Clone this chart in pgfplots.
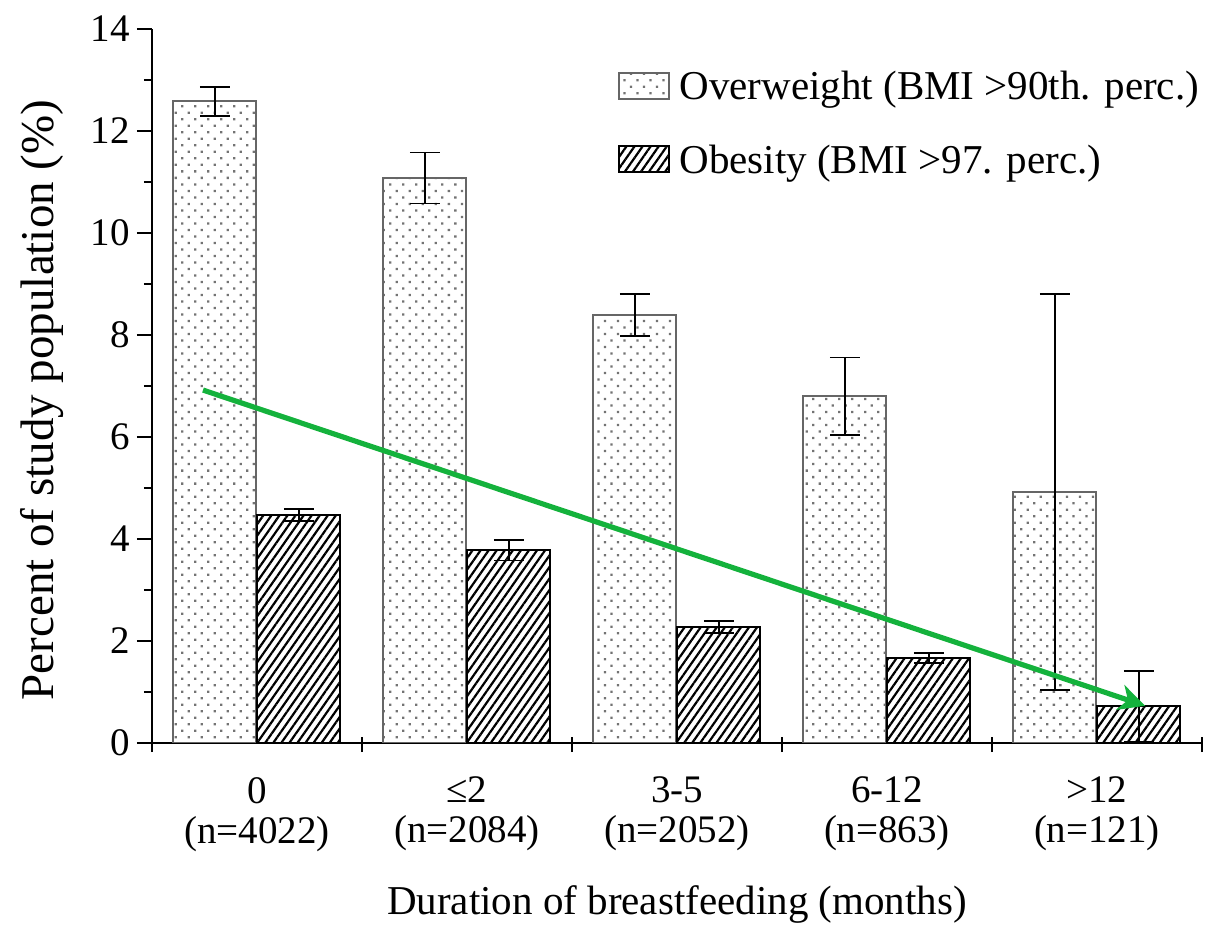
\documentclass[border=0pt]{standalone}
\usepackage{pgfplots}
\pgfplotsset{compat=1.18}
\usepackage{fontspec}
\setmainfont{Liberation Serif}
\usetikzlibrary{patterns.meta,arrows.meta}
\definecolor{arrgreen}{RGB}{20,178,60}
\begin{document}
\begin{tikzpicture}
\useasboundingbox (-76pt,-91.5pt) rectangle (529.5pt,371.5pt);
\begin{axis}[
  scale only axis,
  width=525pt, height=357pt,
  at={(0,0)}, anchor=south west,
  xmin=-0.5, xmax=4.5, ymin=0, ymax=14,
  axis lines=left,
  axis line style={-, line width=1.1pt},
  every tick/.style={black, line width=1.1pt},
  tick align=outside,
  ytick={0,2,...,14},
  minor ytick={1,3,...,13},
  major tick length=7.5pt,
  minor tick length=4pt,
  xtick={-0.5,0.5,...,4.5},
  xticklabels={},
  x tick style={yshift=3pt},
  extra x ticks={0,1,2,3,4},
  extra x tick labels={0\\(n=4022),≤2\\(n=2084),3-5\\(n=2052),6-12\\(n=863),>12\\(n=121)},
  extra x tick style={tick style={draw=none}},
  x tick label style={align=center, font=\fontsize{19.5}{20}\selectfont, yshift=-6pt},
  y tick label style={font=\fontsize{19.5}{21}\selectfont},
  /pgf/number format/assume math mode=true,
  xlabel={Duration of breastfeeding (months)},
  ylabel={Percent of study population (\%)},
  xlabel style={font=\fontsize{20.5}{22}\selectfont, yshift=-3pt},
  ylabel style={font=\fontsize{23.5}{25}\selectfont, yshift=7pt, xshift=-7pt},
  legend style={at={(0.443,0.947)}, anchor=north west, draw=none, fill=none,
    inner sep=0pt, row sep=17pt, font=\fontsize{20.5}{22}\selectfont,
    legend cell align=left,
    /tikz/every odd column/.append style={column sep=3pt}},
  legend image code/.code={\draw[#1] (0pt,-6pt) rectangle (25pt,7pt);},
  error bars/error bar style={line width=0.9pt, black},
  error bars/error mark options={rotate=90, mark size=7.5pt, line width=0.9pt, black},
]
\addplot[ybar, bar width=41.5pt, bar shift=0pt, draw=black!60, line width=1pt,
  pattern={Dots[distance=4.6pt, angle=45, radius=0.8pt]}, pattern color=black!55,
  error bars/.cd, y dir=both, y explicit]
  coordinates {(-0.2,12.58) +- (0,0.29) (0.8,11.08) +- (0,0.50) (1.8,8.39) +- (0,0.41)
               (2.8,6.80) +- (0,0.76) (3.8,4.92) +- (0,3.88)};
\addlegendentry{Overweight (BMI >90th. perc.)}
\addplot[ybar, bar width=41.5pt, bar shift=0pt, draw=black, line width=1pt,
  pattern={Lines[angle=55, distance=3.3pt, line width=1.1pt]}, pattern color=black,
  error bars/.cd, y dir=both, y explicit]
  coordinates {(0.2,4.47) +- (0,0.12) (1.2,3.78) +- (0,0.20) (2.2,2.27) +- (0,0.12)
               (3.2,1.67) +- (0,0.10) (4.2,0.72) +- (0,0.69)};
\addlegendentry{Obesity (BMI >97. perc.)}
\addplot[arrgreen, line width=2.6pt, -{Stealth[length=13pt, width=13pt, inset=4pt]}, forget plot]
  coordinates {(-0.257,6.92) (4.229,0.73)};
\end{axis}
\end{tikzpicture}
\end{document}
